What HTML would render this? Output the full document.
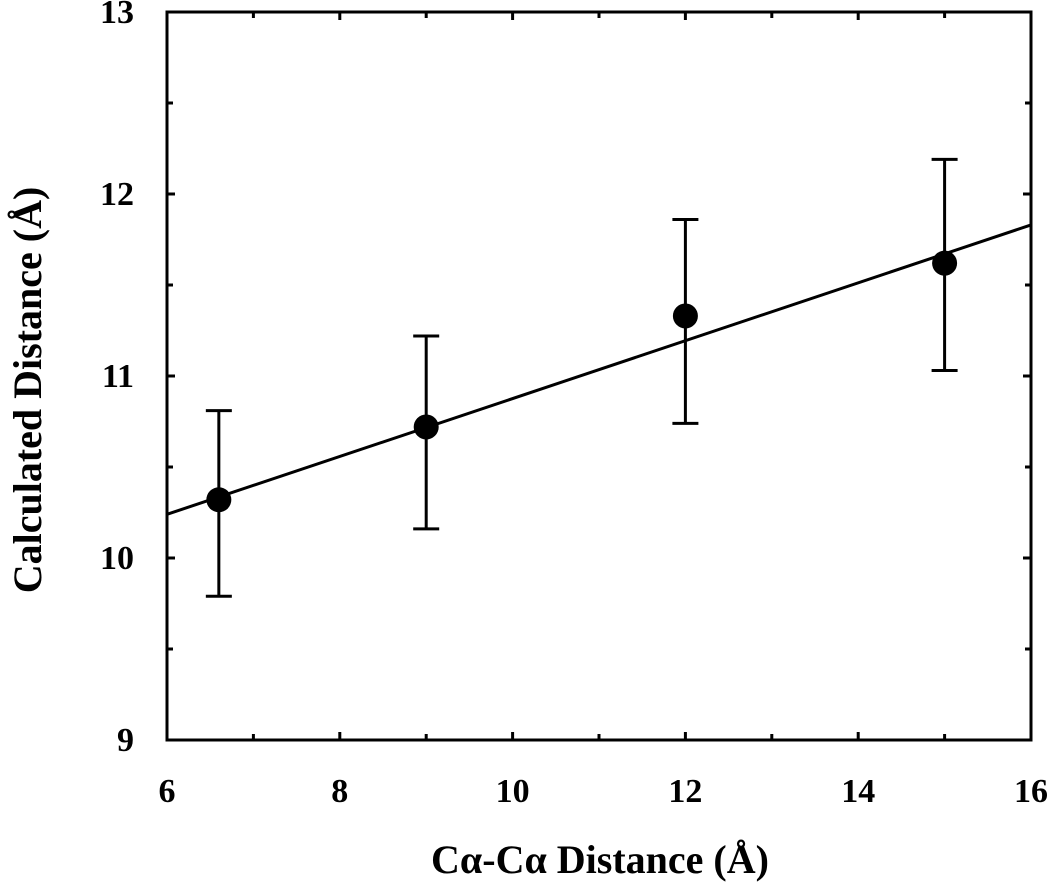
<!DOCTYPE html>
<html><head><meta charset="utf-8"><style>
html,body{margin:0;padding:0;background:#fff;}
svg{display:block;font-family:"Liberation Serif",serif;font-weight:bold;}
</style></head><body>
<svg id="chart" width="1050" height="885">
<g id="plot"></g>
</svg>
<script>
const xVals=[6.6,9.0,12.0,15.0];
const yVals=[10.32,10.72,11.33,11.62];
const yLow=[9.79,10.16,10.74,11.03];
const yHigh=[10.81,11.22,11.86,12.19];
const fitX=[6,16];
const fitY=[10.24,11.83];
const xTicks=[6,8,10,12,14,16];
const yTicks=[9,10,11,12,13];
const L=167,R=1031,T=12,B=740;
const xs=v=>L+(v-6)/(16-6)*(R-L);
const ys=v=>B-(v-9)/(13-9)*(B-T);
const NS='http://www.w3.org/2000/svg';
const g=document.getElementById('plot');
function mk(tag,attrs){const e=document.createElementNS(NS,tag);for(const k in attrs)e.setAttribute(k,attrs[k]);g.appendChild(e);return e;}
let fr=mk('rect',{x:L,y:T,width:R-L,height:B-T,fill:'none',stroke:'#000','stroke-width':3});


for(let v=6;v<=16;v+=1){const maj=v%2===0;const len=maj?8:6;
 let t=mk('line',{x1:xs(v),x2:xs(v),y1:B,y2:B-len,stroke:'#000','stroke-width':3});
 
 
 let t2=mk('line',{x1:xs(v),x2:xs(v),y1:T,y2:T+len,stroke:'#000','stroke-width':3});
 
 }
for(let v=9;v<=13;v+=0.5){const maj=Math.abs(v-Math.round(v))<1e-6;const len=maj?8:6;
 let t=mk('line',{x1:L,x2:L+len,y1:ys(v),y2:ys(v),stroke:'#000','stroke-width':3});
 
 
 let t2=mk('line',{x1:R,x2:R-len,y1:ys(v),y2:ys(v),stroke:'#000','stroke-width':3});
 
 }
xTicks.forEach(v=>{let t=mk('text',{x:xs(v),y:B+62,'text-anchor':'middle','font-size':34});t.textContent=v;
 
 });
yTicks.forEach(v=>{let t=mk('text',{x:L-33,y:ys(v)+11,'text-anchor':'end','font-size':34});t.textContent=v;
 
 });
let fl=mk('line',{x1:xs(fitX[0]),y1:ys(fitY[0]),x2:xs(fitX[1]),y2:ys(fitY[1]),stroke:'#000','stroke-width':3});


xVals.forEach((x,i)=>{const cx=xs(x);
 let e=mk('path',{d:`M${cx} ${ys(yLow[i])}V${ys(yHigh[i])}M${cx-13} ${ys(yLow[i])}H${cx+13}M${cx-13} ${ys(yHigh[i])}H${cx+13}`,stroke:'#000','stroke-width':3,fill:'none'});
 
 
 let c=mk('circle',{cx:cx,cy:ys(yVals[i]),r:12.5,fill:'#000'});
 
 });
let xt=mk('text',{x:600,y:873,'text-anchor':'middle','font-size':40});xt.textContent='Cα-Cα Distance (Å)';


let yt=mk('text',{x:0,y:0,'text-anchor':'middle','font-size':40,transform:'translate(41,390) rotate(-90)'});yt.textContent='Calculated Distance (Å)';


</script>
</body></html>
